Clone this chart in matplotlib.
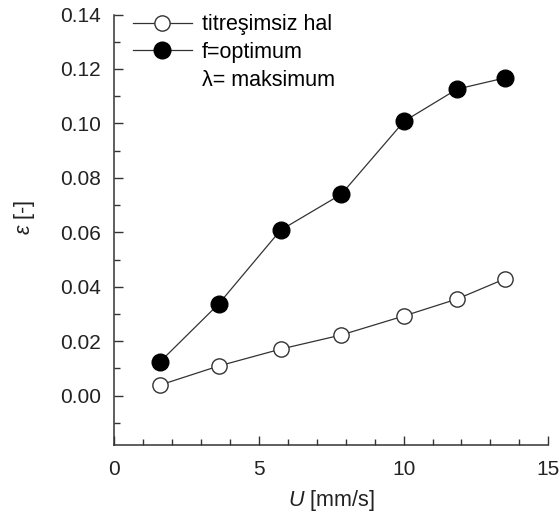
import matplotlib.pyplot as plt
from matplotlib.lines import Line2D
from matplotlib.ticker import MultipleLocator

plt.rcParams['font.family'] = ['Liberation Sans', 'DejaVu Sans']
plt.rcParams['mathtext.fontset'] = 'custom'
plt.rcParams['mathtext.it'] = 'Liberation Sans:italic'
plt.rcParams['mathtext.rm'] = 'Liberation Sans'

# flow velocity U [mm/s]
u = [1.58, 3.61, 5.75, 7.85, 10.02, 11.85, 13.5]
# strain epsilon [-]
eps_still = [0.0039, 0.0109, 0.0171, 0.0223, 0.0293, 0.0355, 0.0429]
eps_opt = [0.0124, 0.0337, 0.0608, 0.0740, 0.1008, 0.1126, 0.1167]
labels = ["titreşimsiz hal", "f=optimum", "λ= maksimum"]

fig = plt.figure(figsize=(5.6, 5.18), dpi=100)
ax = fig.add_axes([0.204, 0.141, 0.775, 0.831])

c = "#333333"
l1, = ax.plot(u, eps_still, "-o", color=c, lw=0.9, ms=11,
              mfc="white", mec=c, mew=1.0)
l2, = ax.plot(u, eps_opt, "-o", color=c, lw=0.9, ms=12,
              mfc="black", mec="black")
blank = Line2D([], [], linestyle="none", marker="none")

ax.set_xlim(0, 15)
ax.set_ylim(-0.0181, 0.14)
ax.xaxis.set_major_locator(MultipleLocator(5))
ax.xaxis.set_minor_locator(MultipleLocator(1))
ax.yaxis.set_major_locator(MultipleLocator(0.02))
ax.yaxis.set_minor_locator(MultipleLocator(0.01))
ax.yaxis.set_major_formatter(plt.FormatStrFormatter("%.2f"))

for s in ["top", "right"]:
    ax.spines[s].set_visible(False)
for s in ["left", "bottom"]:
    ax.spines[s].set_color(c)
    ax.spines[s].set_linewidth(1.1)

ax.tick_params(which="both", direction="in", color=c, width=1.0,
               labelsize=15, labelcolor="#222222")
ax.tick_params(which="major", length=6.5)
ax.tick_params(which="minor", length=4.3)
ax.tick_params(axis="x", pad=11)
ax.tick_params(axis="y", pad=9.5)

ax.set_xlabel(r"$U$ [mm/s]", fontsize=15.5, color="#222222", labelpad=6)
ax.set_ylabel(r"$\varepsilon$ [-]", fontsize=15.5, color="#222222")
ax.yaxis.set_label_coords(-0.178, 0.529)

ax.legend([l1, l2, blank], labels, loc="upper left", frameon=False,
          fontsize=15.5, handlelength=2.75, handletextpad=0.47,
          labelspacing=0.32, borderaxespad=0.0,
          bbox_to_anchor=(0.023, 1.021))

fig.savefig("out.png", dpi=100)
